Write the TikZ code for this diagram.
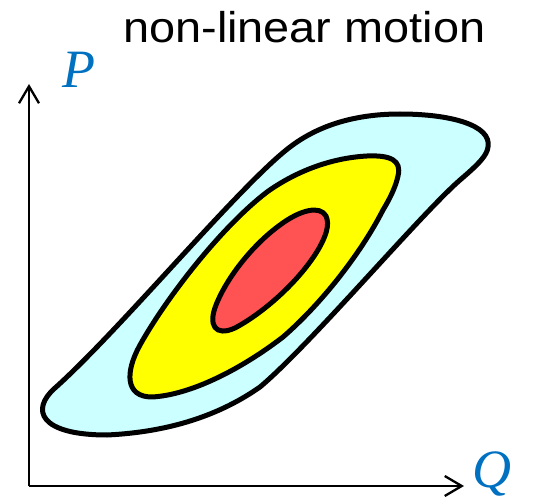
\documentclass[tikz,border=0pt]{standalone}
\usepackage{fontspec}
\setmainfont{Liberation Serif}
\newfontfamily\titlefont{Liberation Sans}
\usetikzlibrary{arrows.meta}
\definecolor{lightcyan}{RGB}{204,255,255}
\definecolor{coreyellow}{RGB}{255,255,0}
\definecolor{corered}{RGB}{255,82,82}
\definecolor{labelblue}{RGB}{0,112,192}
\tikzstyle{axis} = [line width=2.3pt, -{Straight Barb[length=17pt,width=20pt]}]
\tikzstyle{contour} = [draw=black, line width=5pt, line join=round]
\tikzstyle{varlabel} = [text=labelblue, inner sep=0pt, anchor=base west, font=\fontsize{54}{60}\selectfont\itshape]

\begin{document}
\begin{tikzpicture}[x=1pt, y=-1pt]
\useasboundingbox (0,0) rectangle (539,500);

% Title
\node (title) [anchor=base west, inner sep=0pt, font=\titlefont\fontsize{43}{50}\selectfont, xscale=1.09] at (123,43) {non-linear motion};

% Outer contour
\draw [contour, fill=lightcyan] (488,147)
  .. controls (492,125) and (450,114) .. (400,114)
  .. controls (350,114) and (315,128) .. (290,147)
  .. controls (240,185) and (120,330) .. (55,388)
  .. controls (30,410) and (40,435) .. (107,435)
  .. controls (170,432) and (220,415) .. (260,387)
  .. controls (310,345) and (420,215) .. (460,180)
  .. controls (480,163) and (487,155) .. cycle;

% Middle contour
\draw [contour, fill=coreyellow] (398,176)
  .. controls (402,160) and (390,155) .. (367,156)
  .. controls (330,158) and (295,172) .. (267,192)
  .. controls (220,228) and (165,300) .. (140,345)
  .. controls (125,372) and (125,397) .. (152,397)
  .. controls (190,395) and (240,370) .. (283,337)
  .. controls (320,305) and (360,255) .. (383,210)
  .. controls (392,195) and (396,185) .. cycle;

% Inner contour
\draw [contour, fill=corered] (326,216)
  .. controls (320,205) and (300,210) .. (280,225)
  .. controls (255,243) and (228,275) .. (216,305)
  .. controls (208,325) and (215,337) .. (235,328)
  .. controls (265,312) and (300,280) .. (318,250)
  .. controls (326,236) and (330,225) .. cycle;

% Axes
\coordinate (origin) at (29,486);
\coordinate (ptop) at (29,84);
\coordinate (qend) at (464,486);
\draw [axis] (origin) -- (ptop);
\draw [axis] (origin) -- (qend);

% Axis labels
\node (plabel) [varlabel] at (62,88) {P};
\node (qlabel) [varlabel] at (472,487) {Q};

\end{tikzpicture}
\end{document}
